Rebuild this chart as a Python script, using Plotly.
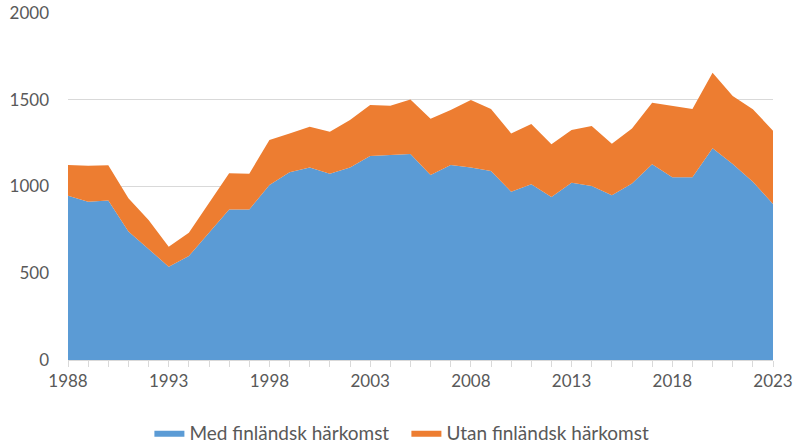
import plotly.graph_objects as go

years = list(range(1988, 2024))
med_finlandsk = [947, 912, 920, 740, 640, 538, 600, 735, 868, 868, 1008, 1082, 1110, 1074, 1110, 1176,
                 1182, 1187, 1066, 1124, 1110, 1089, 970, 1013, 939, 1022, 1003, 949, 1018, 1128,
                 1053, 1053, 1220, 1130, 1028, 899]
totalt = [1124, 1120, 1122, 932, 807, 653, 734, 905, 1076, 1074, 1268, 1306, 1345, 1316, 1383, 1470,
          1466, 1502, 1391, 1441, 1499, 1447, 1306, 1360, 1243, 1326, 1349, 1246, 1335, 1483,
          1466, 1447, 1656, 1522, 1445, 1322]
utan_finlandsk = [t - m for t, m in zip(totalt, med_finlandsk)]
x_ticks = [1988, 1993, 1998, 2003, 2008, 2013, 2018, 2023]
y_ticks = [0, 500, 1000, 1500, 2000]

font_family = "Lato, 'Open Sans', sans-serif"
gray = "#595959"

fig = go.Figure()
fig.add_trace(go.Scatter(x=years, y=med_finlandsk, name="Med finländsk härkomst",
                         stackgroup="one", mode="lines", line=dict(width=0, color="#5B9BD5"),
                         fillcolor="#5B9BD5"))
fig.add_trace(go.Scatter(x=years, y=utan_finlandsk, name="Utan finländsk härkomst",
                         stackgroup="one", mode="lines", line=dict(width=0, color="#ED7D31"),
                         fillcolor="#ED7D31"))

fig.update_layout(
    width=798, height=445,
    margin=dict(l=68, r=25, t=13, b=85, autoexpand=False),
    paper_bgcolor="white", plot_bgcolor="white",
    font=dict(family=font_family, size=17, color=gray),
    showlegend=True,
    legend=dict(orientation="h", x=0.48, xanchor="center", y=-0.21, yanchor="middle",
                font=dict(size=19, color=gray), traceorder="normal",
                entrywidth=212, entrywidthmode="pixels"),
)
fig.update_xaxes(range=[1988, 2023], tickvals=x_ticks, showgrid=False, automargin=False,
                 showline=True, linecolor="#D9D9D9", linewidth=1,
                 ticks="outside", ticklen=6, tickcolor="#D9D9D9",
                 minor=dict(dtick=1, tick0=1988, ticks="outside", ticklen=6, tickcolor="#D9D9D9", showgrid=False),
                 tickfont=dict(size=17, color=gray), zeroline=False)
fig.update_yaxes(range=[0, 2000], tickvals=y_ticks, showgrid=True, gridcolor="#D9D9D9", gridwidth=1,
                 automargin=False, zeroline=False, showline=False, ticks="", ticklabelstandoff=18,
                 tickfont=dict(size=17, color=gray))

fig.write_html("out.html", config={"displayModeBar": False},
               post_script="document.body.style.margin='0';document.body.style.overflow='hidden';")
